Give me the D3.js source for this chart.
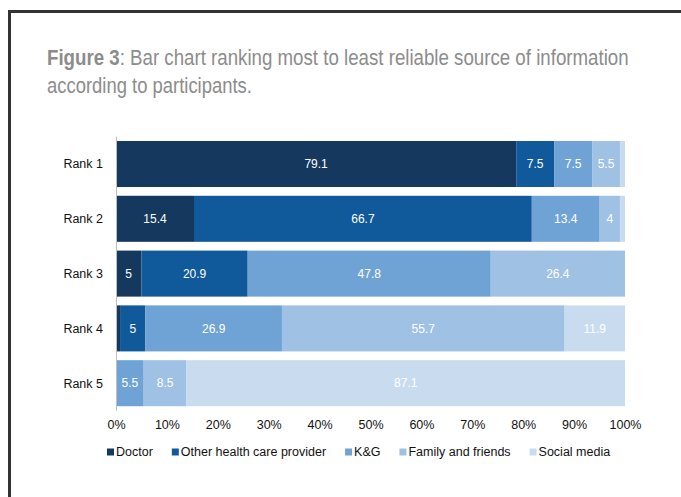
<!DOCTYPE html>
<html>
<head>
<meta charset="utf-8">
<script src="https://cdn.jsdelivr.net/npm/d3@7"></script>
<style>
  html, body { margin: 0; padding: 0; background: #fff; }
  svg { display: block; }
</style>
</head>
<body>
<svg id="chart" width="681" height="497"></svg>
<script>
// Ranks (rows) and the five information sources (stacked segments), in %.
const ranks = ["Rank 1", "Rank 2", "Rank 3", "Rank 4", "Rank 5"];
const sources = ["Doctor", "Other health care provider", "K&G", "Family and friends", "Social media"];
const doctor = [79.1, 15.4, 5, 0.8, 0];
const otherProvider = [7.5, 66.7, 20.9, 5, 0];
const kg = [7.5, 13.4, 47.8, 26.9, 5.5];
const familyFriends = [5.5, 4, 26.4, 55.7, 8.5];
const socialMedia = [1.0, 1.0, 0, 11.9, 87.1];
const tickValues = [0, 0.1, 0.2, 0.3, 0.4, 0.5, 0.6, 0.7, 0.8, 0.9, 1];
const colors = ["#15385f", "#105a9b", "#70a3d5", "#9fc1e3", "#c9dcef"];

const seriesValues = [doctor, otherProvider, kg, familyFriends, socialMedia];
const rows = ranks.map((r, i) => {
  const row = { rank: r };
  sources.forEach((s, j) => { row[s] = seriesValues[j][i]; });
  return row;
});

const svg = d3.select("#chart");

// Frame around the figure
svg.append("rect")
  .attr("x", 9.5).attr("y", 11.5)
  .attr("width", 720).attr("height", 540)
  .attr("fill", "none").attr("stroke", "#333").attr("stroke-width", 3);

// Caption, horizontally condensed to its line width
const title = svg.append("g")
  .attr("font-family", "'Liberation Sans Narrow', 'Arial Narrow', 'Liberation Sans', sans-serif")
  .attr("font-size", 22.5).attr("fill", "#8c8c8c");
function condensedLine(x0, y0, width, parts) {
  const t = title.append("text");
  parts.forEach(p => t.append("tspan").attr("font-weight", p.bold ? "bold" : null).text(p.text));
  const natural = t.node().getComputedTextLength();
  t.attr("transform", `translate(${x0},${y0}) scale(${width / natural},1)`);
}
condensedLine(47, 65, 582, [
  { text: "Figure 3", bold: true },
  { text: ": Bar chart ranking most to least reliable source of information" }
]);
condensedLine(47, 93, 205, [{ text: "according to participants." }]);

// Scales
const x = d3.scaleLinear().domain([0, 1]).range([116, 625]);
const y = d3.scaleBand().domain(ranks).range([136.6, 410.6])
  .paddingInner(0.16).paddingOuter(0.08);
const color = d3.scaleOrdinal().domain(sources).range(colors);

const stacked = d3.stack().keys(sources).offset(d3.stackOffsetExpand)(rows);

const font = "'Liberation Sans', Arial, sans-serif";

// Segments
const layers = svg.append("g").selectAll("g").data(stacked).join("g")
  .attr("fill", d => color(d.key));
layers.selectAll("rect").data(d => d).join("rect")
  .attr("x", d => x(d[0]))
  .attr("y", d => y(d.data.rank))
  .attr("width", d => x(d[1]) - x(d[0]))
  .attr("height", y.bandwidth());

// Value labels
const labelGroup = svg.append("g")
  .attr("font-family", font).attr("font-size", 12).attr("fill", "#fff")
  .attr("text-anchor", "middle");
stacked.forEach(layer => {
  layer.forEach(d => {
    const v = d.data[layer.key];
    if (v < 2) return;
    labelGroup.append("text")
      .attr("x", (x(d[0]) + x(d[1])) / 2)
      .attr("y", y(d.data.rank) + y.bandwidth() / 2)
      .attr("dy", "0.35em")
      .text(String(v));
  });
});

// Category axis line and labels
svg.append("line")
  .attr("x1", x(0) + 0.5).attr("x2", x(0) + 0.5)
  .attr("y1", y.range()[0]).attr("y2", y.range()[1])
  .attr("stroke", "#bfbfbf").attr("stroke-width", 1);
svg.append("g").attr("font-family", font).attr("font-size", 12.5).attr("fill", "#111")
  .attr("text-anchor", "end")
  .selectAll("text").data(ranks).join("text")
  .attr("x", 103)
  .attr("y", d => y(d) + y.bandwidth() / 2)
  .attr("dy", "0.35em")
  .text(d => d);

// Percentage axis
const xAxis = svg.append("g").attr("transform", "translate(0,410)")
  .call(d3.axisBottom(x).tickValues(tickValues).tickFormat(d3.format(".0%"))
    .tickSize(0).tickPadding(10));
xAxis.select(".domain").remove();
xAxis.selectAll("text").attr("font-family", font).attr("font-size", 12.5).attr("fill", "#111");

// Legend
const legend = svg.append("g").attr("font-family", font).attr("font-size", 12.5).attr("fill", "#111");
let lx = 107;
sources.forEach(s => {
  legend.append("rect").attr("x", lx).attr("y", 448.5).attr("width", 7).attr("height", 7)
    .attr("fill", color(s));
  const t = legend.append("text").attr("x", lx + 9).attr("y", 452).attr("dy", "0.35em").text(s);
  lx += 9 + t.node().getComputedTextLength() + 19;
});
</script>
</body>
</html>
